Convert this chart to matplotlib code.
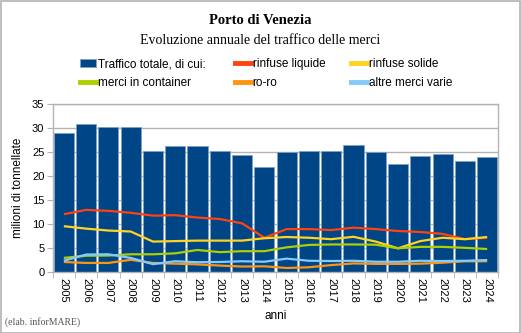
import matplotlib
matplotlib.use("Agg")
import matplotlib.pyplot as plt
from matplotlib.patches import Rectangle
from matplotlib.lines import Line2D
import numpy as np

years = [str(y) for y in range(2005, 2025)]
totale = [29.1, 30.9, 30.2, 30.3, 25.2, 26.4, 26.3, 25.3, 24.4, 21.9,
          25.1, 25.2, 25.2, 26.5, 25.0, 22.5, 24.2, 24.6, 23.2, 24.1]
liquide = [12.1, 13.0, 12.8, 12.4, 11.8, 11.9, 11.4, 11.1, 10.2, 7.2,
           9.0, 9.0, 8.8, 9.3, 9.0, 8.6, 8.4, 8.0, 6.9, 7.2]
solide = [9.6, 9.1, 8.7, 8.5, 6.4, 6.5, 6.6, 6.6, 6.6, 7.1,
          7.35, 7.2, 6.9, 7.4, 6.4, 5.0, 6.5, 7.2, 6.9, 7.35]
container = [3.0, 3.45, 3.5, 3.75, 3.75, 3.95, 4.65, 4.2, 4.4, 4.4,
             5.2, 5.7, 5.8, 5.8, 5.75, 5.0, 5.3, 5.3, 5.1, 4.85]
roro = [2.15, 1.95, 1.95, 2.6, 1.95, 1.8, 1.65, 1.4, 1.2, 1.25,
        0.9, 1.05, 1.5, 1.85, 1.75, 1.75, 1.8, 2.0, 2.3, 2.3]
altre = [2.4, 3.7, 3.75, 3.0, 1.7, 2.3, 2.1, 2.15, 2.3, 2.2,
         2.85, 2.4, 2.35, 2.4, 2.2, 2.2, 2.4, 2.35, 2.4, 2.55]
yticks = [0, 5, 10, 15, 20, 25, 30, 35]

C_BAR = "#004586"
C_LIQ = "#ff420e"
C_SOL = "#ffd320"
C_CON = "#aecf00"
C_RORO = "#ff950e"
C_ALT = "#83caff"
GRID = "#b3b3b3"

fig = plt.figure(figsize=(5.21, 3.33), dpi=100)
fig.patch.set_facecolor("white")
fig.add_artist(Rectangle((0.5/521, 0.5/333), 1 - 1.5/521, 1 - 1.5/333, transform=fig.transFigure,
                         fill=False, edgecolor="#b3b3b3", linewidth=1.2))

ax = fig.add_axes([52.7/521, 1 - 272.3/333, (498.3 - 52.7)/521, (272.3 - 104.3)/333])
x = np.arange(len(years))
ax.bar(x, totale, width=0.9, color=C_BAR, edgecolor="#7fa2c3", linewidth=0.6, zorder=2)
series = [(liquide, C_LIQ), (solide, C_SOL), (container, C_CON), (roro, C_RORO), (altre, C_ALT)]
for vals, c in series:
    ax.plot(x, vals, color=c, linewidth=1.6, zorder=3, solid_capstyle="butt")

ax.set_xlim(-0.5, len(years) - 0.5)
ax.set_ylim(0, 35)
ax.set_yticks(yticks)
ax.set_yticklabels([str(v) for v in yticks], fontsize=8, family="Liberation Sans")
ax.yaxis.grid(True, color=GRID, linewidth=1.0, zorder=0)
ax.set_axisbelow(True)
ax.set_xticks(x)
ax.set_xticklabels(years, rotation=270, fontsize=8, family="Liberation Sans")
ax.tick_params(axis="x", length=0, pad=4)
ax.set_xticks(np.arange(len(years) + 1) - 0.5, minor=True)
ax.tick_params(axis="x", which="minor", length=4, color=GRID)
ax.tick_params(axis="y", length=4, color=GRID, pad=2)
for s in ax.spines.values():
    s.set_color(GRID)
    s.set_linewidth(1.0)

ax.set_ylabel("milioni di tonnellate", fontsize=8.5, family="Liberation Sans", labelpad=6)
ax.set_xlabel("anni", fontsize=8.5, family="Liberation Sans", labelpad=5)

fig.text(0.5, 1 - 20/333, "Porto di Venezia", ha="center", va="center",
         fontsize=10.5, fontweight="bold", family="Liberation Serif")
fig.text(0.5, 1 - 41/333, "Evoluzione annuale del traffico delle merci", ha="center", va="center",
         fontsize=10, family="Liberation Serif")
fig.text(5/521, 1 - 322/333, "(elab. inforMARE)", ha="left", va="center",
         fontsize=7, family="Liberation Serif", color="#555555")

columns = [
    (80, [Rectangle((0, 0), 1, 1, facecolor=C_BAR, edgecolor="#7fa2c3", linewidth=0.6),
          Line2D([], [], color=C_CON, linewidth=3.5)],
     ["Traffico totale, di cui:", "merci in container"]),
    (235, [Line2D([], [], color=C_LIQ, linewidth=3.5), Line2D([], [], color=C_RORO, linewidth=3.5)],
     ["rinfuse liquide", "ro-ro"]),
    (351, [Line2D([], [], color=C_SOL, linewidth=3.5), Line2D([], [], color=C_ALT, linewidth=3.5)],
     ["rinfuse solide", "altre merci varie"]),
]
for xpos, hs, ls in columns:
    leg = fig.legend(hs, ls, loc="center left", bbox_to_anchor=(xpos/521, 1 - 73.5/333),
                     frameon=False, prop={"family": "Liberation Sans", "size": 8.5},
                     handlelength=1.35, handleheight=0.6, handletextpad=0.15,
                     labelspacing=0.55, borderpad=0, borderaxespad=0)

fig.savefig("out.png", dpi=100, facecolor="white")
